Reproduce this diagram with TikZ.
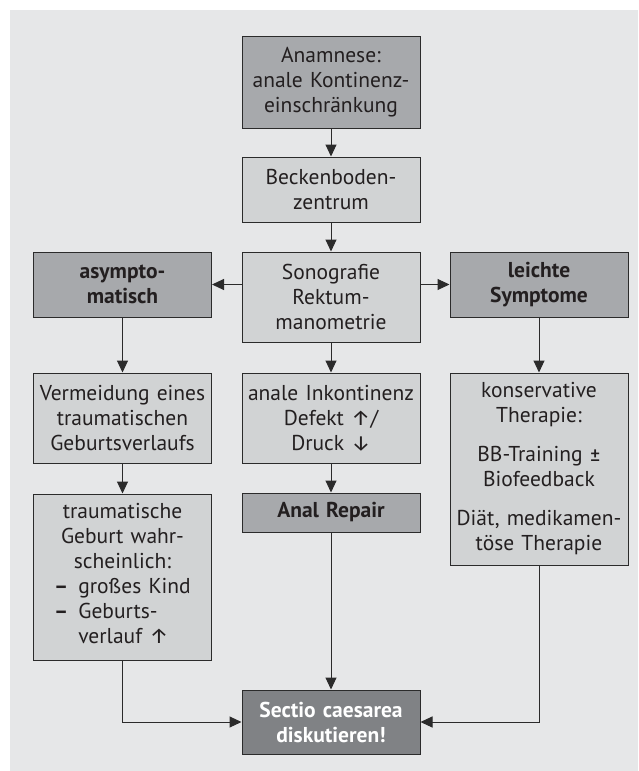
\documentclass[tikz,border=0pt]{standalone}
\usepackage{fontspec}
\setmainfont{PT Sans}
\newfontfamily\arrowfont{Fira Sans}
\usetikzlibrary{arrows.meta}
\definecolor{colBg}{HTML}{E6E7E8}
\definecolor{colLight}{HTML}{D1D3D4}
\definecolor{colDark}{HTML}{A7A9AC}
\definecolor{colSectio}{HTML}{808285}
\definecolor{colLine}{HTML}{2B2B2B}
\definecolor{colText}{HTML}{231F20}
\newcommand{\uparr}{{\arrowfont\fontseries{l}\selectfont ↑}}
\newcommand{\downarr}{{\arrowfont\fontseries{l}\selectfont ↓}}
\newcommand{\plusmin}{{\arrowfont ±}}
\begin{document}
\begin{tikzpicture}[x=1pt,y=-1pt,
    box/.style={draw=colLine,line width=1pt,fill=colLight,text=colText,
        text width=172pt,inner xsep=3pt,inner ysep=0pt,align=center,
        font=\fontsize{21.5}{25}\selectfont},
    dark/.style={box,fill=colDark},
    strong/.style={dark,font=\fontsize{21.5}{25}\selectfont\bfseries},
    arr/.style={draw=colLine,line width=1pt,-{Triangle[length=12pt,width=11pt]}}]
\useasboundingbox (0,0) rectangle (638,771);
\fill[colBg] (10,10) rectangle (638,771);
% middle column
\node[dark,minimum height=92pt](Anam) at (331,82){Anamnese:\\anale Kontinenz-\\einschränkung};
\node[box,minimum height=65pt](Beck) at (331,189.5){Beckenboden-\\zentrum};
\node[box,minimum height=90pt](Sono) at (331,297){Sonografie\\Rektum-\\manometrie};
\node[box,minimum height=90pt](Inko) at (331,418){anale Inkontinenz\\Defekt \uparr/\\Druck \downarr};
\node[strong,minimum height=39pt](Repair) at (331,512.5){Anal Repair};
\node[strong,fill=colSectio,text=white,minimum height=64pt](Sectio) at (331,722){Sectio caesarea\\diskutieren!};
% left column
\node[strong,minimum height=65pt](Asym) at (122.5,284.5){asympto-\\matisch};
\node[box,minimum height=90pt](Verm) at (122.5,418){Vermeidung eines\\traumatischen\\Geburtsverlaufs};
\node[box,minimum height=166pt](Traum) at (122.5,577){traumatische\\Geburt wahr-\\scheinlich:\\
    \begin{tabular}[t]{@{}l@{\hspace{10pt}}l@{}}\textbf{–}&großes Kind\\\textbf{–}&Geburts-\\&verlauf \uparr\end{tabular}};
% right column
\node[strong,minimum height=65pt](Leicht) at (539,284.5){leichte\\Symptome};
\node[box,minimum height=192pt](Kons) at (539,469){konservative\\Therapie:\\[14pt]BB-Training \plusmin\\Biofeedback\\[14pt]Diät, medikamen-\\töse Therapie};
% connectors
\draw[arr](Anam)--(Beck);
\draw[arr](Beck)--(Sono);
\draw[arr](Sono.west |- Asym.east)--(Asym.east);
\draw[arr](Sono.east |- Leicht.west)--(Leicht.west);
\draw[arr](Sono)--(Inko);
\draw[arr](Inko)--(Repair);
\draw[arr](Repair)--(Sectio);
\draw[arr](Asym)--(Verm);
\draw[arr](Verm)--(Traum);
\draw[arr](Leicht)--(Kons);
\draw[arr](Traum)|-(Sectio);
\draw[arr](Kons)|-(Sectio);
\end{tikzpicture}
\end{document}
